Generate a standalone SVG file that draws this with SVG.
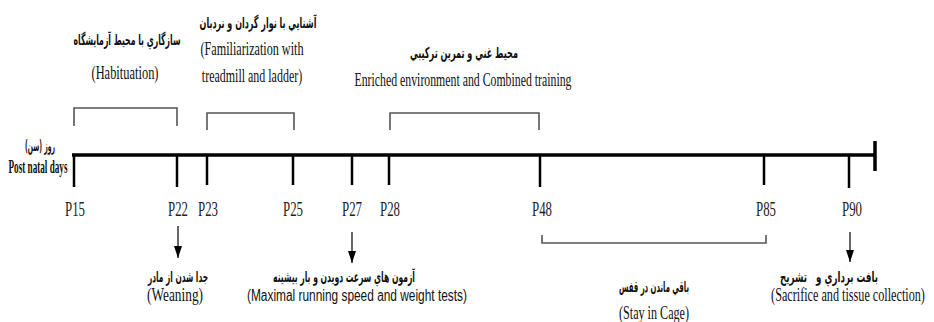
<svg xmlns="http://www.w3.org/2000/svg" width="934" height="322" viewBox="0 0 934 322">
<defs>
<marker id="ah" viewBox="0 0 12 8" refX="12" refY="4" markerWidth="12" markerHeight="8" markerUnits="userSpaceOnUse" orient="auto">
<path d="M0,0 L12,4 L0,8 Z" fill="#000"/>
</marker>
</defs>
<style>
.en{font-family:"Liberation Serif","Times New Roman",serif;font-size:18px;fill:#111;text-anchor:middle}
.sans{font-family:"Liberation Sans",Arial,sans-serif;font-size:16px;fill:#111;text-anchor:middle}
.fa{font-family:"DejaVu Sans",sans-serif;font-size:15px;font-weight:bold;fill:#111;text-anchor:middle}
.p{font-family:"Liberation Serif","Times New Roman",serif;font-size:20px;fill:#222;text-anchor:middle}
.ax{stroke:#000;stroke-width:3.5;fill:none}
.tick{stroke:#000;stroke-width:2.5;fill:none}
.br{stroke:#555;stroke-width:1.6;fill:none}
.arr{stroke:#000;stroke-width:1.2;fill:none;marker-end:url(#ah)}
</style>
<rect width="934" height="322" fill="#fff"/>

<g id="axis">
<line class="ax" x1="72" y1="155" x2="876" y2="155"/>
<line class="ax" x1="875" y1="141" x2="875" y2="171"/>
<g class="tick">
<line x1="74" y1="155" x2="74" y2="187"/>
<line x1="177" y1="155" x2="177" y2="187"/>
<line x1="207" y1="155" x2="207" y2="185"/>
<line x1="293" y1="155" x2="293" y2="185"/>
<line x1="352" y1="155" x2="352" y2="185"/>
<line x1="389" y1="155" x2="389" y2="185"/>
<line x1="540" y1="155" x2="540" y2="187"/>
<line x1="764" y1="155" x2="764" y2="185"/>
<line x1="849" y1="155" x2="849" y2="188"/>
</g>
<text class="fa" x="40" y="151" font-size="12" direction="rtl" textLength="30" lengthAdjust="spacingAndGlyphs">روز (سن)</text>
<text class="en" x="38" y="173" font-size="12" font-weight="bold" textLength="59" lengthAdjust="spacingAndGlyphs">Post natal days</text>
<text class="p" x="75" y="216" textLength="20" lengthAdjust="spacingAndGlyphs">P15</text>
<text class="p" x="178" y="216" textLength="20" lengthAdjust="spacingAndGlyphs">P22</text>
<text class="p" x="208" y="216" textLength="20" lengthAdjust="spacingAndGlyphs">P23</text>
<text class="p" x="293" y="216" textLength="20" lengthAdjust="spacingAndGlyphs">P25</text>
<text class="p" x="352" y="216" textLength="20" lengthAdjust="spacingAndGlyphs">P27</text>
<text class="p" x="390" y="216" textLength="20" lengthAdjust="spacingAndGlyphs">P28</text>
<text class="p" x="542" y="216" textLength="20" lengthAdjust="spacingAndGlyphs">P48</text>
<text class="p" x="766" y="216" textLength="20" lengthAdjust="spacingAndGlyphs">P85</text>
<text class="p" x="852" y="216" textLength="20" lengthAdjust="spacingAndGlyphs">P90</text>
</g>

<g id="habituation">
<path class="br" d="M74,126 V108 H177 V126"/>
<text class="fa" transform="translate(127,45) scale(0.7,1)" x="0" y="0" textLength="153" lengthAdjust="spacingAndGlyphs">سازگاري با محيط آزمايشگاه</text>
<text class="en" x="125" y="79" textLength="67" lengthAdjust="spacingAndGlyphs">(Habituation)</text>
</g>

<g id="familiarization">
<path class="br" d="M207,130 V113 H294 V130"/>
<text class="fa" transform="translate(258,28) scale(0.7,1)" x="0" y="0" textLength="167" lengthAdjust="spacingAndGlyphs">آشنايي با نوار گردان و نردبان</text>
<text class="en" transform="translate(252,55) scale(0.66,1)" x="0" y="0" textLength="156" lengthAdjust="spacingAndGlyphs">(Familiarization with</text>
<text class="en" transform="translate(252,82) scale(0.66,1)" x="0" y="0" textLength="152" lengthAdjust="spacingAndGlyphs">treadmill and ladder)</text>
</g>

<g id="enriched">
<path class="br" d="M390,130 V113 H539 V130"/>
<text class="fa" x="464" y="58" textLength="108" lengthAdjust="spacingAndGlyphs">محيط غني و تمرين تركيبي</text>
<text class="en" x="463" y="86" textLength="217" lengthAdjust="spacingAndGlyphs">Enriched environment and Combined training</text>
</g>

<g id="weaning">
<text class="fa" x="178" y="282" textLength="60" lengthAdjust="spacingAndGlyphs">جدا شدن از مادر</text>
<text class="en" x="175" y="301" textLength="56" lengthAdjust="spacingAndGlyphs">(Weaning)</text>
</g>

<g id="tests">
<text class="fa" x="344" y="282" textLength="142" lengthAdjust="spacingAndGlyphs">آزمون هاي سرعت دويدن و بار بيشينه</text>
<text class="sans" x="357" y="301" textLength="220" lengthAdjust="spacingAndGlyphs">(Maximal running speed and weight tests)</text>
</g>

<g id="stay">
<path class="br" d="M542,235 V243 H766 V235"/>
<text class="fa" x="654" y="292" textLength="70" lengthAdjust="spacingAndGlyphs">باقي ماندن در قفس</text>
<text class="en" x="654" y="319" textLength="70" lengthAdjust="spacingAndGlyphs">(Stay in Cage)</text>
</g>

<g id="sacrifice">
<text class="fa" transform="translate(829,282) scale(0.7,1)" x="0" y="0" textLength="140" lengthAdjust="spacingAndGlyphs">بافت برداري و&#160;&#160;&#160;تشريح</text>
<text class="en" transform="translate(848,301) scale(0.66,1)" x="0" y="0" textLength="233" lengthAdjust="spacingAndGlyphs">(Sacrifice and tissue collection)</text>
</g>

<g id="connectors">
<line class="arr" x1="178" y1="226" x2="178" y2="258"/>
<line class="arr" x1="352" y1="232" x2="352" y2="263"/>
<line class="arr" x1="850" y1="232" x2="850" y2="262"/>
</g>
</svg>
